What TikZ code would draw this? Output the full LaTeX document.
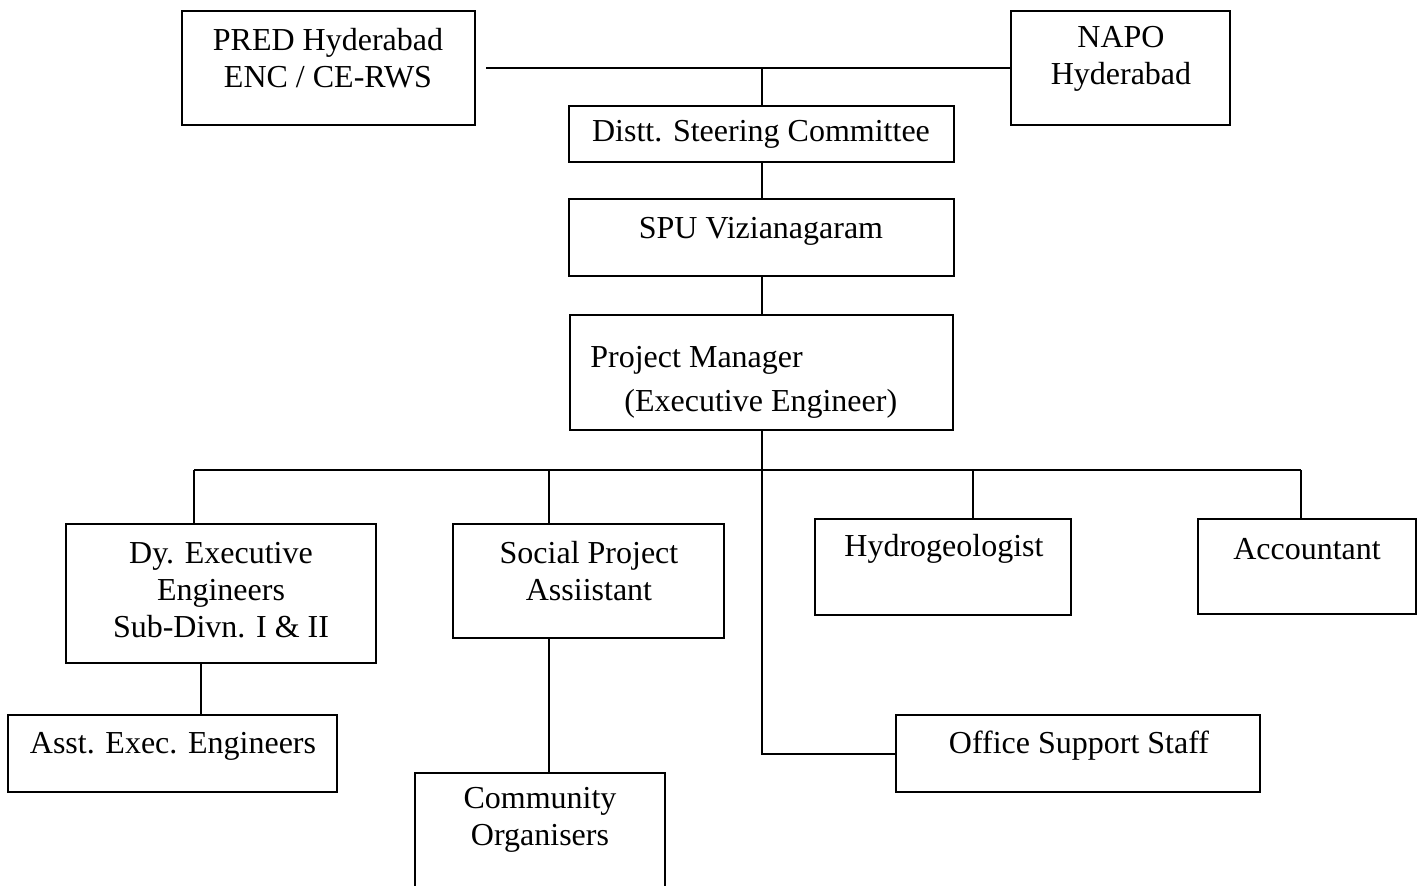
\documentclass[tikz,border=0pt]{standalone}
\usepackage{fontspec}
\setmainfont{Liberation Serif}

\begin{document}
\begin{tikzpicture}[x=0.5pt, y=-0.5pt,
  box/.style={draw=black, line width=1pt, rectangle, inner sep=0pt},
  txt/.style={align=center, inner sep=0pt, font=\fontsize{16}{18.5}\selectfont},
  link/.style={draw=black, line width=1pt}]

  \useasboundingbox (0,0) rectangle (1420,885);

  % boxes
  \node[box, minimum width=146.5pt, minimum height=57pt] (pred) at (328.5, 67.5) {};
  \node[box, minimum width=109.5pt, minimum height=57pt] (napo) at (1120.5, 67.5) {};
  \node[box, minimum width=192.5pt, minimum height=28pt] (dsc) at (761.5, 134) {};
  \node[box, minimum width=192.5pt, minimum height=38.5pt] (spu) at (761.5, 237.5) {};
  \node[box, minimum width=191.5pt, minimum height=57.5pt] (pm) at (761.5, 372.5) {};

  \node[box, minimum width=155pt, minimum height=69.5pt] (dee) at (221, 593.5) {};
  \node[box, minimum width=135.5pt, minimum height=57pt] (spa) at (588.5, 581) {};
  \node[box, minimum width=128pt, minimum height=48pt] (hyd) at (943, 567) {};
  \node[box, minimum width=109pt, minimum height=47.5pt] (acc) at (1307, 566.5) {};
  \node[box, minimum width=164.5pt, minimum height=38.5pt] (aee) at (172.5, 753.5) {};
  \node[box, minimum width=125pt, minimum height=63.5pt] (com) at (540, 836.5) {};
  \node[box, minimum width=182pt, minimum height=38.5pt] (off) at (1078, 753.5) {};

  % labels
  \node[txt] (predtxt) at (328, 58) {PRED Hyderabad\\ENC / CE-RWS};
  \node[txt] (napotxt) at (1121, 59) {NAPO\\Hyderabad};
  \node[txt] (dsctxt) at (761, 134) {Distt. Steering Committee};
  \node[txt] (sputxt) at (761, 231) {SPU Vizianagaram};
  \node[txt, anchor=west] (pmtxt) at (590, 360) {Project Manager};
  \node[txt, anchor=west] (eetxt) at (624, 404) {(Executive Engineer)};
  \node[txt] (deetxt) at (221, 590) {Dy. Executive\\Engineers\\Sub-Divn. I \& II};
  \node[txt] (spatxt) at (589, 571) {Social Project\\Assiistant};
  \node[txt] (hydtxt) at (944, 549) {Hydrogeologist};
  \node[txt] (acctxt) at (1307, 549) {Accountant};
  \node[txt] (aeetxt) at (173, 746) {Asst. Exec. Engineers};
  \node[txt] (comtxt) at (540, 820) {Community\\Organisers};
  \node[txt] (offtxt) at (1079, 746) {Office Support Staff};

  % top links
  \draw[link] ([xshift=5pt]pred.east) -- (napo.west);
  \draw[link] (dsc.north) -- (dsc.north |- napo.west);
  \draw[link] (dsc.south) -- (spu.north);
  \draw[link] (spu.south) -- (pm.north);
  \draw[link] (pm.south) -- (pm.south |- off.west) -- (off.west);

  % bus to the staff
  \coordinate (b1) at (194, 470);
  \coordinate (b2) at (549, 470);
  \coordinate (b3) at (973, 470);
  \coordinate (b4) at (1301, 470);
  \draw[link] (b1) -- (b4);
  \draw[link] (b1) -- (b1 |- dee.north);
  \draw[link] (b2) -- (b2 |- spa.north);
  \draw[link] (b3) -- (b3 |- hyd.north);
  \draw[link] (b4) -- (b4 |- acc.north);

  \draw[link] ([xshift=-10pt]dee.south) -- ([xshift=-10pt]dee.south |- aee.north);
  \draw[link] (b2 |- spa.south) -- (b2 |- com.north);

\end{tikzpicture}
\end{document}
